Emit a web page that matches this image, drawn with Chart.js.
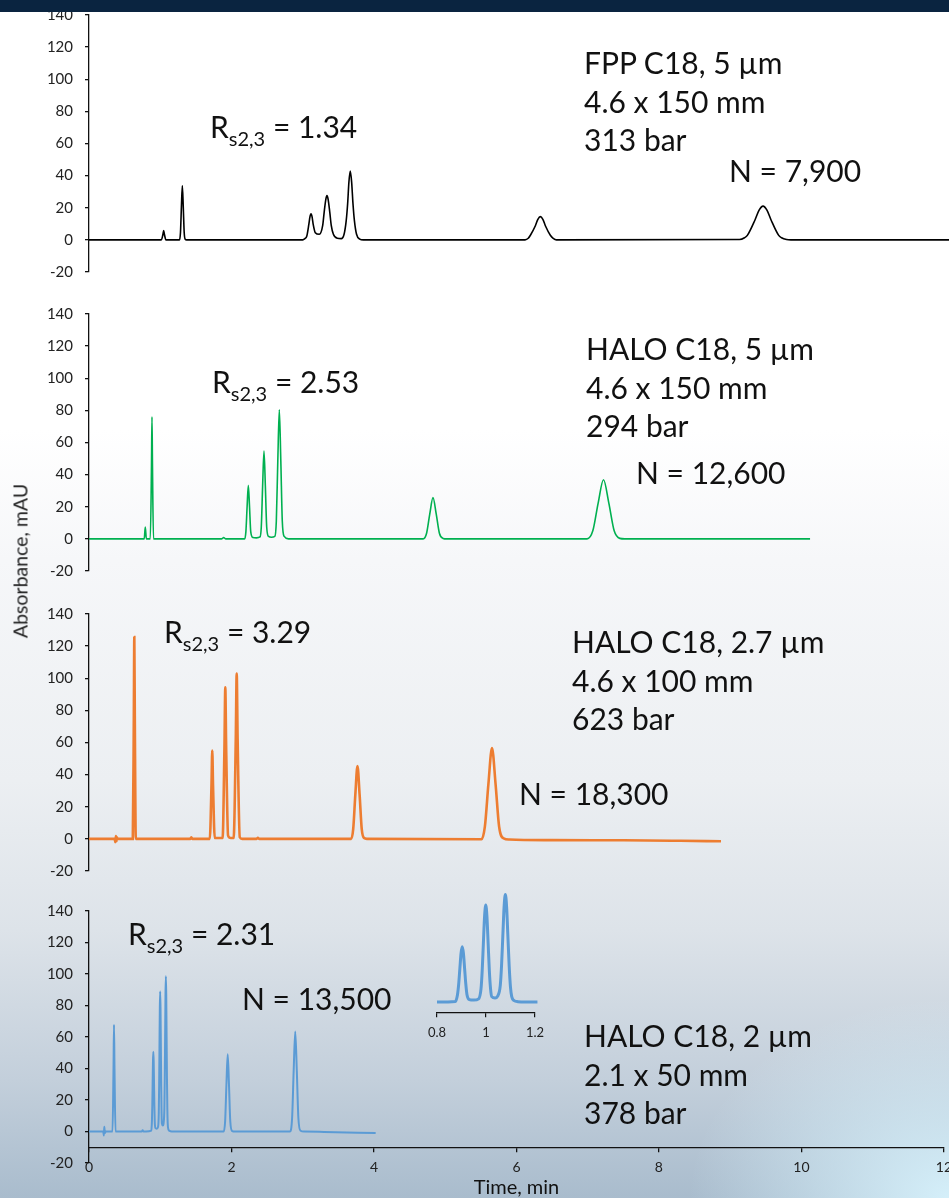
<!DOCTYPE html>
<html>
<head>
<meta charset="utf-8">
<script src="https://cdn.jsdelivr.net/npm/chart.js@4.4.1/dist/chart.umd.min.js"></script>
<style>
  html, body { margin: 0; padding: 0; width: 949px; height: 1198px; overflow: hidden; }
  body {
    position: relative;
    font-family: Lato, "Open Sans", sans-serif;
    color: #111;
    background:
      radial-gradient(ellipse 260px 200px at 100% 100%, rgba(215,242,252,0.95), rgba(215,242,252,0) 100%),
      linear-gradient(to bottom, #ffffff 0px, #ffffff 430px, #f6f7f9 560px, #eceff2 780px, #dde3e9 930px, #c3cfdb 1080px, #a9bccd 1198px);
  }
  .band { position: absolute; left: 0; top: 0; width: 949px; height: 12px; background: #0a2440; z-index: 5; }
  canvas { position: absolute; left: 0; }
  .note { position: absolute; font-size: 30px; line-height: 30px; white-space: nowrap; }
  .block { position: absolute; font-size: 30px; line-height: 38.5px; white-space: nowrap; }
  .note .s { font-size: 20px; position: relative; top: 8px; }
  .ytitle { position: absolute; left: 20px; top: 561px; transform: translate(-50%, -50%) rotate(-90deg);
            font-size: 19.5px; white-space: nowrap; color: #222; }
</style>
</head>
<body>
<div class="band"></div>

<canvas id="p1" width="960" height="305" style="top:-9px"></canvas>
<canvas id="p2" width="960" height="305" style="top:290px"></canvas>
<canvas id="p3" width="960" height="305" style="top:590px"></canvas>
<canvas id="p4" width="960" height="311" style="top:887px"></canvas>
<canvas id="inset" width="140" height="184" style="left:416px;top:861px"></canvas>

<div class="ytitle">Absorbance, mAU</div>

<div class="note" style="left:210px;top:111px">R<span class="s">s2,3</span> = 1.34</div>
<div class="block" style="left:584px;top:43px">FPP C18, 5 µm<br>4.6 x 150 mm<br>313 bar</div>
<div class="note" style="left:729px;top:155px">N = 7,900</div>

<div class="note" style="left:212px;top:366px">R<span class="s">s2,3</span> = 2.53</div>
<div class="block" style="left:586px;top:329px">HALO C18, 5 µm<br>4.6 x 150 mm<br>294 bar</div>
<div class="note" style="left:636px;top:457px">N = 12,600</div>

<div class="note" style="left:164px;top:616px">R<span class="s">s2,3</span> = 3.29</div>
<div class="block" style="left:572px;top:622px">HALO C18, 2.7 µm<br>4.6 x 100 mm<br>623 bar</div>
<div class="note" style="left:519px;top:778px">N = 18,300</div>

<div class="note" style="left:128px;top:918px">R<span class="s">s2,3</span> = 2.31</div>
<div class="note" style="left:242px;top:983px">N = 13,500</div>
<div class="block" style="left:584px;top:1016px">HALO C18, 2 µm<br>2.1 x 50 mm<br>378 bar</div>

<script>
// chromatogram traces, [time (min), absorbance (mAU)]
const fppTrace = [
  [0, 0], [1.015, 0], [1.038, 3.5], [1.048, 5.8], [1.058, 3.5], [1.08, 0],
  [1.27, 0], [1.284, 4.6], [1.297, 20.5], [1.31, 33.8], [1.323, 20.5], [1.336, 4.6], [1.35, 0.4], [1.37, 0],
  [3.0, 0], [3.03, 0.8], [3.056, 2.2], [3.086, 9.8], [3.101, 14.3], [3.116, 16.2], [3.131, 14.3], [3.146, 9.8],
  [3.176, 4.5], [3.232, 3.5], [3.28, 9], [3.30, 17], [3.325, 25.5], [3.34, 27.6], [3.355, 25.5], [3.38, 17],
  [3.40, 9], [3.43, 3.5], [3.485, 1], [3.54, 0.8], [3.58, 3.5], [3.61, 12], [3.63, 22.5], [3.648, 36],
  [3.667, 42.8], [3.686, 36], [3.705, 22.5], [3.725, 12], [3.755, 3.5], [3.8, 0.5], [3.85, 0],
  [6.12, 0], [6.165, 1.0], [6.195, 2.9], [6.265, 8.8], [6.30, 12.8], [6.335, 14.5], [6.37, 12.8], [6.405, 8.8],
  [6.475, 2.9], [6.515, 1.0], [6.56, 0],
  [9.13, 0.2], [9.2, 1.3], [9.24, 2.8], [9.35, 12.7], [9.405, 18.5], [9.46, 21], [9.515, 18.5], [9.57, 12.7],
  [9.68, 2.8], [9.72, 1.3], [9.79, 0.2], [9.85, 0], [12.1, 0]
];

const halo5Trace = [
  [0, 0], [0.775, 0], [0.79, 7.3], [0.805, 0], [0.86, 0], [0.877, 45], [0.884, 76], [0.891, 45], [0.905, 0],
  [1.86, 0], [1.89, 0.8], [1.92, 0],
  [2.185, 0], [2.202, 4.5], [2.219, 20], [2.236, 33.3], [2.253, 20], [2.27, 4.5], [2.30, 0.8], [2.35, 0.6],
  [2.40, 1.2], [2.418, 7.4], [2.437, 33], [2.456, 54.6], [2.475, 33], [2.494, 7.4], [2.52, 1.5], [2.56, 1],
  [2.608, 1.5], [2.629, 11], [2.65, 48.8], [2.671, 80.4], [2.692, 48.8], [2.713, 11], [2.74, 1.5], [2.8, 0],
  [4.69, 0], [4.738, 3.5], [4.783, 15.6], [4.828, 25.7], [4.873, 15.6], [4.918, 3.5], [4.97, 0.3], [5.02, 0],
  [6.99, 0], [7.071, 5], [7.146, 22.3], [7.221, 36.8], [7.296, 22.3], [7.371, 5], [7.45, 0.3], [7.52, 0],
  [10.12, 0]
];

const halo27Trace = [
  [0, 0], [0.36, 0], [0.37, -2], [0.378, 1.8], [0.385, -1.5], [0.392, 1], [0.40, 0],
  [0.615, 0], [0.629, 75], [0.636, 125.7], [0.643, 75], [0.657, 0],
  [1.42, 0], [1.436, 1], [1.45, 0],
  [1.695, 0], [1.719, 33], [1.73, 55], [1.741, 33], [1.765, 0.5], [1.875, 0.5], [1.901, 57], [1.913, 94.3],
  [1.925, 57], [1.952, 2], [1.99, 0.5], [2.03, 0.5], [2.06, 62], [2.073, 103], [2.086, 62], [2.116, 1], [2.15, 0],
  [2.35, 0], [2.37, 0.6], [2.39, 0],
  [3.68, 0], [3.708, 6], [3.738, 27.5], [3.768, 45.3], [3.798, 27.5], [3.828, 6], [3.86, 0.5], [3.9, 0],
  [5.51, -0.2], [5.556, 7.6], [5.606, 34.3], [5.656, 56.5], [5.706, 34.3], [5.756, 7.6], [5.82, 0.3], [5.9, -0.4],
  [6.5, -0.8], [7.5, -0.9], [8.3, -1.2], [8.87, -1.5]
];

const halo2Trace = [
  [0, 0], [0.2, 0], [0.208, -2.5], [0.215, 3], [0.222, -1], [0.235, 0],
  [0.33, 0], [0.344, 40], [0.351, 67.7], [0.358, 40], [0.372, 0],
  [0.74, 0], [0.753, 0.8], [0.766, 0], [0.8, 0],
  [0.875, 0.6], [0.8836, 6.8], [0.8885, 16.4], [0.8933, 30.7], [0.8982, 44.7], [0.903, 50.6], [0.9078, 44.7],
  [0.9127, 30.7], [0.9176, 16.4], [0.9224, 6.8], [0.932, 2.2], [0.95, 1.8],
  [0.97, 3], [0.9796, 12], [0.9845, 28.9], [0.9893, 53.9], [0.9942, 78.5], [0.999, 88.9], [1.0038, 78.5],
  [1.0087, 53.9], [1.0136, 28.9], [1.0184, 12.5], [1.0233, 5], [1.037, 3.8],
  [1.0478, 5.5], [1.0582, 15], [1.0634, 33], [1.0686, 60], [1.0738, 87], [1.079, 98.6], [1.0842, 87],
  [1.0894, 60], [1.0946, 33], [1.0998, 14], [1.105, 5], [1.115, 1.3], [1.13, 0.4], [1.16, 0], [1.21, 0],
  [1.89, 0], [1.911, 6.6], [1.929, 29.7], [1.947, 49], [1.965, 29.7], [1.983, 6.6], [2.01, 0.3], [2.05, 0],
  [2.82, 0], [2.851, 8.6], [2.873, 38.5], [2.895, 63.5], [2.917, 38.5], [2.939, 8.6], [2.97, 0.5], [3.02, 0],
  [3.3, -0.3], [4.024, -1]
];

// axis ranges / ticks
const timeTicks = [0, 2, 4, 6, 8, 10, 12];
const absTicks = [-20, 0, 20, 40, 60, 80, 100, 120, 140];
const insetTicks = [0.8, 1, 1.2];

Chart.defaults.font.family = "Lato, 'Open Sans', sans-serif";
Chart.defaults.color = '#222';

function toPoints(trace) {
    return trace.map(function (p) { return { x: p[0], y: p[1] }; });
}

function makePanel(id, trace, color, lineWidth, bottomAxis) {
    const ctx = document.getElementById(id).getContext('2d');
    return new Chart(ctx, {
        type: 'line',
        data: {
            datasets: [{
                data: toPoints(trace),
                borderColor: color,
                borderWidth: lineWidth,
                pointRadius: 0,
                fill: false,
                cubicInterpolationMode: 'monotone',
                clip: false
            }]
        },
        options: {
            responsive: false,
            animation: false,
            events: [],
            layout: { padding: { top: 24, bottom: bottomAxis ? 35 : 24, left: 0, right: 16 } },
            plugins: { legend: { display: false }, tooltip: { enabled: false } },
            scales: {
                x: {
                    type: 'linear',
                    min: timeTicks[0],
                    max: timeTicks[timeTicks.length - 1],
                    display: bottomAxis,
                    position: bottomAxis ? { y: -10 } : 'bottom',
                    afterBuildTicks: function (s) { s.ticks = timeTicks.map(function (v) { return { value: v }; }); },
                    ticks: { font: { size: 14 }, padding: 8, maxRotation: 0 },
                    grid: { drawOnChartArea: false, drawTicks: true, tickLength: 4, color: '#111', lineWidth: 1.3 },
                    border: { display: true, color: '#111', width: 1.3 },
                    title: { display: true, text: 'Time, min', font: { size: 20 }, padding: { top: -9, bottom: 0 }, color: '#111' }
                },
                y: {
                    min: absTicks[0],
                    max: absTicks[absTicks.length - 1],
                    afterBuildTicks: function (s) { s.ticks = absTicks.map(function (v) { return { value: v }; }); },
                    afterFit: function (s) { s.width = 89; },
                    ticks: { font: { size: 15 }, padding: 12 },
                    grid: { drawOnChartArea: false, drawTicks: true, tickLength: 4, color: '#111', lineWidth: 1.3 },
                    border: { display: true, color: '#111', width: 1.3 }
                }
            }
        }
    });
}

makePanel('p1', fppTrace, '#000000', 1.6, false);
makePanel('p2', halo5Trace, '#00b050', 1.6, false);
makePanel('p3', halo27Trace, '#ed7d31', 2.6, false);
makePanel('p4', halo2Trace, '#5b9bd5', 2, true);

// inset: zoom of the 2 µm run between 0.8 and 1.2 min
const insetTrace = halo2Trace.filter(function (p) { return p[0] >= 0.8 && p[0] <= 1.21; });
new Chart(document.getElementById('inset').getContext('2d'), {
    type: 'line',
    data: {
        datasets: [{
            data: toPoints(insetTrace),
            borderColor: '#5b9bd5',
            borderWidth: 3,
            pointRadius: 0,
            fill: false,
            cubicInterpolationMode: 'monotone',
            clip: false
        }]
    },
    options: {
        responsive: false,
        animation: false,
        events: [],
        layout: { padding: { top: 10, bottom: 32, left: 21, right: 21 } },
        plugins: { legend: { display: false }, tooltip: { enabled: false } },
        scales: {
            x: {
                type: 'linear',
                min: insetTicks[0],
                max: insetTicks[insetTicks.length - 1],
                position: { y: -10 },
                afterBuildTicks: function (s) { s.ticks = insetTicks.map(function (v) { return { value: v }; }); },
                ticks: { font: { size: 13 }, padding: 8, maxRotation: 0,
                         callback: function (v) { return String(+v.toFixed(1)); } },
                grid: { drawOnChartArea: false, drawTicks: true, tickLength: 4, color: '#111', lineWidth: 1.2 },
                border: { display: true, color: '#111', width: 1.2 }
            },
            y: { display: false, min: -10, max: 120 }
        }
    }
});
</script>
</body>
</html>
